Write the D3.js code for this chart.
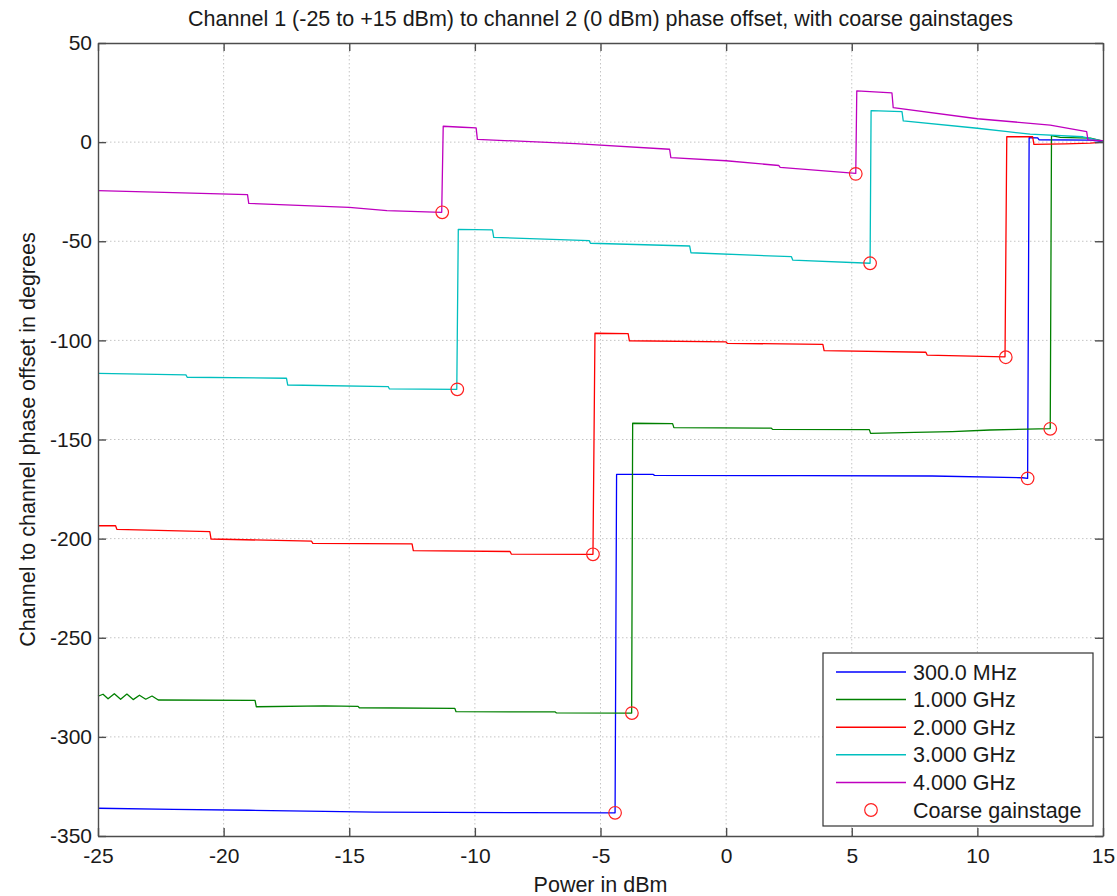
<!DOCTYPE html>
<html>
<head>
<meta charset="utf-8">
<script src="https://cdn.jsdelivr.net/npm/d3@7"></script>
<style>
  html, body { margin: 0; padding: 0; background: #fff; }
  svg { display: block; font-family: "Liberation Sans", Arial, sans-serif; }
</style>
</head>
<body>
<svg id="chart" width="1117" height="896"></svg>
<script>
// ---------------- data ----------------
const chartTitle = "Channel 1 (-25 to +15 dBm) to channel 2 (0 dBm) phase offset, with coarse gainstages";
const xLabel = "Power in dBm";
const yLabel = "Channel to channel phase offset in degrees";

const xTicks = [-25, -20, -15, -10, -5, 0, 5, 10, 15];
const xTickLabels = ["-25", "-20", "-15", "-10", "-5", "0", "5", "10", "15"];
const yTicks = [50, 0, -50, -100, -150, -200, -250, -300, -350];
const yTickLabels = ["50", "0", "-50", "-100", "-150", "-200", "-250", "-300", "-350"];

const seriesNames = ["300.0 MHz", "1.000 GHz", "2.000 GHz", "3.000 GHz", "4.000 GHz"];
const seriesColors = ["#0000ff", "#008000", "#ff0000", "#00bfbf", "#bf00bf"];

// [power dBm, phase deg]
const phase300MHz = [
  [-25, -336.0], [-22, -336.6], [-19, -337.0], [-16, -337.6], [-14, -338.0], [-8, -338.2], [-4.42, -338.3],
  [-4.36, -167.6], [-2.9, -167.6], [-2.85, -168.1], [3, -168.2], [8.2, -168.4], [11.8, -169.3], [12.0, -169.6],
  [12.06, 2.2], [12.4, 2.1], [12.45, 1.2], [14.5, 1.0], [15, 0.3]
];
const phase1GHz = [
  [-25, -279.5], [-24.8, -278.5], [-24.6, -280.8], [-24.35, -278.2], [-24.1, -281.0], [-23.85, -278.4],
  [-23.6, -281.2], [-23.35, -279.0], [-23.1, -281.0], [-22.85, -279.4], [-22.6, -281.4],
  [-18.75, -281.6], [-18.7, -284.8], [-16, -284.4], [-14.65, -284.6], [-14.6, -285.3], [-10.8, -285.6],
  [-10.75, -287.3], [-6.8, -287.4], [-6.75, -287.9], [-3.76, -288.0],
  [-3.72, -141.8], [-2.13, -142.0], [-2.08, -144.0], [1.8, -144.3], [1.85, -144.9], [5.7, -145.0],
  [5.75, -146.9], [7.5, -146.4], [9, -146.0], [10.5, -145.2], [12.9, -144.5],
  [12.95, 3.3], [13.3, 2.4], [14.5, 2.0], [15, 0.5]
];
const phase2GHz = [
  [-25, -193.5], [-24.3, -193.5], [-24.25, -195.3], [-20.55, -196.5], [-20.5, -200.2], [-16.5, -201.3],
  [-16.45, -202.4], [-12.5, -202.6], [-12.45, -206.1], [-8.6, -206.5], [-8.55, -207.8], [-5.3, -207.9],
  [-5.22, -96.4], [-3.9, -96.6], [-3.85, -100.2], [0.0, -100.8], [0.05, -101.5], [3.85, -102.0],
  [3.9, -105.2], [7.95, -106.0], [8.0, -107.4], [11.1, -108.3],
  [11.17, 2.7], [12.2, 2.7], [12.25, -1.1], [13.5, -0.9], [14.5, -0.5], [15, 0]
];
const phase3GHz = [
  [-25, -116.6], [-21.5, -117.4], [-21.45, -118.6], [-17.5, -119.1], [-17.45, -122.5], [-13.45, -123.3],
  [-13.4, -124.5], [-10.72, -124.7],
  [-10.66, -44.0], [-9.3, -44.3], [-9.25, -48.0], [-5.45, -49.7], [-5.4, -51.0], [-1.45, -52.4],
  [-1.4, -55.8], [2.6, -57.8], [2.65, -59.5], [5.73, -61.1],
  [5.77, 15.9], [7.0, 15.4], [7.05, 10.7], [10, 7.0], [11.2, 5.3], [12.1, 4.0], [14.2, 2.7], [15, 0.5]
];
const phase4GHz = [
  [-25, -24.5], [-22, -25.5], [-19.05, -26.5], [-19.0, -30.9], [-15, -32.9], [-13.5, -34.6], [-11.32, -35.4],
  [-11.26, 8.0], [-10.5, 7.5], [-9.95, 7.2], [-9.9, 1.4], [-6, -0.8], [-2.25, -3.6], [-2.2, -7.8],
  [0, -9.4], [2.1, -11.8], [2.15, -12.7], [5.16, -15.8],
  [5.2, 25.8], [6.6, 24.8], [6.65, 17.4], [10, 11.8], [12.9, 8.6], [14.35, 5.3], [14.4, 1.1], [15, 0.8]
];
const seriesData = [phase300MHz, phase1GHz, phase2GHz, phase3GHz, phase4GHz];

const gainstageLabel = "Coarse gainstage";
const gainstagePower = [-11.3, 5.16, -10.7, 5.73, -5.3, 11.13, -3.75, 12.9, -4.42, 12.0];
const gainstagePhase = [-35.4, -16.0, -124.7, -61.1, -207.9, -108.5, -288.0, -144.6, -338.3, -169.6];

// ---------------- drawing ----------------
const svg = d3.select("#chart");
const W = 1117, H = 896;
const margin = { left: 98, right: 1117 - 1103, top: 43, bottom: 896 - 836 };

const x = d3.scaleLinear().domain([-25, 15]).range([margin.left, W - margin.right]);
const y = d3.scaleLinear().domain([-350, 50]).range([H - margin.bottom, margin.top]);

const textColor = "#1a1a1a";
const axisColor = "#4d4d4d";
const labelSize = 21.5;
const tickSize = 21;

// grid
const grid = svg.append("g").attr("class", "grid");
grid.selectAll("line.vx").data(xTicks.slice(1, -1)).join("line")
  .attr("x1", d => x(d)).attr("x2", d => x(d))
  .attr("y1", y(50)).attr("y2", y(-350))
  .attr("stroke", "#c4c4c4").attr("stroke-width", 1).attr("stroke-dasharray", "1.5,2.5");
grid.selectAll("line.hy").data(yTicks.slice(1, -1)).join("line")
  .attr("y1", d => y(d)).attr("y2", d => y(d))
  .attr("x1", x(-25)).attr("x2", x(15))
  .attr("stroke", "#c4c4c4").attr("stroke-width", 1).attr("stroke-dasharray", "1.5,2.5");

// series lines
const line = d3.line().x(d => x(d[0])).y(d => y(d[1]));
svg.append("g").selectAll("path").data(seriesData).join("path")
  .attr("d", d => line(d))
  .attr("fill", "none")
  .attr("stroke", (d, i) => seriesColors[i])
  .attr("stroke-width", 1.3)
  .attr("stroke-linejoin", "round");

// markers
svg.append("g").selectAll("circle").data(gainstagePower).join("circle")
  .attr("cx", d => x(d))
  .attr("cy", (d, i) => y(gainstagePhase[i]))
  .attr("r", 6.3)
  .attr("fill", "none")
  .attr("stroke", "#ff2020")
  .attr("stroke-width", 1.2);

// axes (ticks inward, box on all sides)
const fmtX = d => xTickLabels[xTicks.indexOf(d)];
const fmtY = d => yTickLabels[yTicks.indexOf(d)];

const gx = svg.append("g").attr("transform", `translate(0,${y(-350)})`)
  .call(d3.axisBottom(x).tickValues(xTicks).tickFormat(fmtX).tickSizeInner(-8).tickSizeOuter(0).tickPadding(12));
const gxTop = svg.append("g").attr("transform", `translate(0,${y(50)})`)
  .call(d3.axisTop(x).tickValues(xTicks).tickFormat("").tickSizeInner(-8).tickSizeOuter(0));
const gy = svg.append("g").attr("transform", `translate(${x(-25)},0)`)
  .call(d3.axisLeft(y).tickValues(yTicks).tickFormat(fmtY).tickSizeInner(-8).tickSizeOuter(0).tickPadding(6));
const gyRight = svg.append("g").attr("transform", `translate(${x(15)},0)`)
  .call(d3.axisRight(y).tickValues(yTicks).tickFormat("").tickSizeInner(-8).tickSizeOuter(0));

[gx, gxTop, gy, gyRight].forEach(g => {
  g.select(".domain").attr("stroke", axisColor).attr("stroke-width", 1.4);
  g.selectAll(".tick line").attr("stroke", axisColor).attr("stroke-width", 1.4);
  g.selectAll(".tick text").attr("fill", textColor).attr("font-size", tickSize)
    .attr("font-family", '"Liberation Sans", Arial, sans-serif');
});

// title and axis labels
svg.append("text").attr("x", (x(-25) + x(15)) / 2).attr("y", 26)
  .attr("text-anchor", "middle").attr("font-size", labelSize).attr("fill", textColor).text(chartTitle);
svg.append("text").attr("x", (x(-25) + x(15)) / 2).attr("y", 892)
  .attr("text-anchor", "middle").attr("font-size", labelSize).attr("fill", textColor).text(xLabel);
svg.append("text")
  .attr("transform", `translate(35,${(y(50) + y(-350)) / 2}) rotate(-90)`)
  .attr("text-anchor", "middle").attr("font-size", labelSize).attr("fill", textColor).text(yLabel);

// legend
const lg = svg.append("g").attr("transform", "translate(823,653)");
lg.append("rect").attr("width", 270).attr("height", 173)
  .attr("fill", "#fff").attr("stroke", "#333").attr("stroke-width", 1.2);
const rowY = i => 19 + i * 27.6;
const legendItems = seriesNames.map((n, i) => ({ name: n, color: seriesColors[i], type: "line" }))
  .concat([{ name: gainstageLabel, color: "#ff2020", type: "circle" }]);
const rows = lg.selectAll("g.row").data(legendItems).join("g")
  .attr("transform", (d, i) => `translate(0,${rowY(i)})`);
rows.filter(d => d.type === "line").append("line")
  .attr("x1", 13).attr("x2", 83).attr("y1", 0).attr("y2", 0)
  .attr("stroke", d => d.color).attr("stroke-width", 1.5);
rows.filter(d => d.type === "circle").append("circle")
  .attr("cx", 48).attr("cy", 0).attr("r", 6.3)
  .attr("fill", "none").attr("stroke", d => d.color).attr("stroke-width", 1.2);
rows.append("text").attr("x", 90).attr("y", 0).attr("dy", "0.35em")
  .attr("font-size", labelSize).attr("fill", textColor).text(d => d.name);
</script>
</body>
</html>
